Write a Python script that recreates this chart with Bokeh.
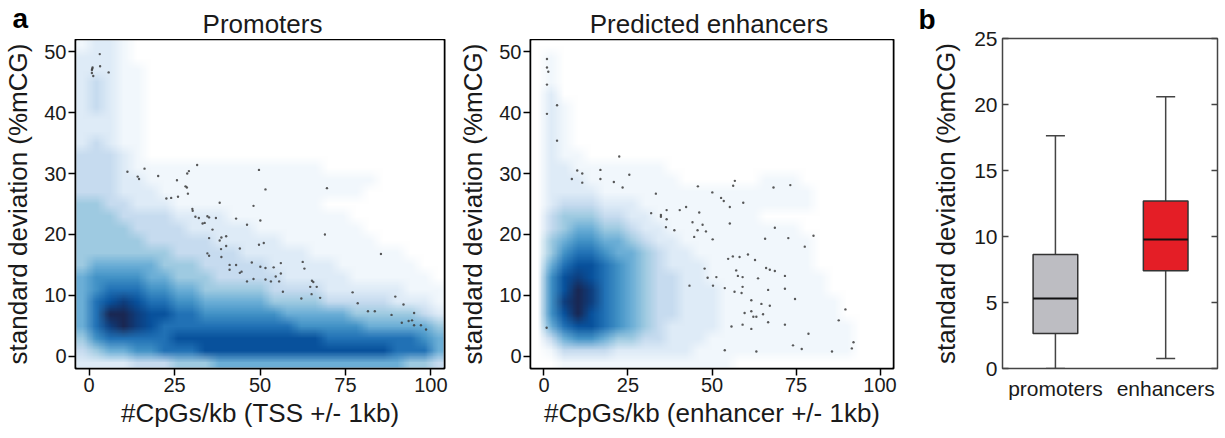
import zlib
import struct
import base64
import numpy as np
from bokeh.plotting import figure
from bokeh.layouts import row, column
from bokeh.models import FixedTicker, Range1d, LinearAxis
from bokeh.core.properties import value
from bokeh.embed import file_html
from bokeh.resources import INLINE

FONT = "Liberation Sans"

# ---------------- data ----------------
# density levels (0 = none ... a = highest, hex digits), rows listed top (sd ~51) to
# bottom (sd ~-1), columns are CpG/kb bins centred at -2, 2, 6, ..., 102
promoter_density = [
    "122100000000000000000000000",
    "222100000000000000000000000",
    "222110000000000000000000000",
    "232110000000000000000000000",
    "232110000000000000000000000",
    "232110000000000000000000000",
    "222110000000000000000000000",
    "222110000000000000000000000",
    "232110000000000000000000000",
    "333210000000000000000000000",
    "333211111111111111000000000",
    "333221111111111111111100000",
    "333222111111111111111000000",
    "443322211111111111000000000",
    "444333322221111111110000000",
    "444433332222211111111000000",
    "444443333322222111111100000",
    "444444433333222221111111000",
    "455555444333332222211111100",
    "566665544433333222221111110",
    "567776655444443333222222111",
    "578987766555554444333332221",
    "57aa98877666666555554444432",
    "579a98777777777766666555554",
    "467777788888888888777777765",
    "345566777888888888888887775",
    "222233344455555555555555443",
]
enhancer_density = [
    "000000000000000000000000000",
    "010000000000000000000000000",
    "010000000000000000000000000",
    "010000000000000000000000000",
    "020000000000000000000000000",
    "021000000000000000000000000",
    "021000000000000000000000000",
    "021000000000000000000000000",
    "021000000000000000000000000",
    "021100000000000000000000000",
    "022111111100000000000000000",
    "022211111110000001110000000",
    "022221111111111111111000000",
    "023332221111111111111000000",
    "034443322111111110000000000",
    "034554432211111111110000000",
    "045665543221111111111000000",
    "046776554322111111111000000",
    "057887654322211111111000000",
    "068987654332211111111100000",
    "068a97654332221111111100000",
    "069a97654332221111111110000",
    "068a87654332221111111110000",
    "057887654322221111111111000",
    "035665443322211111111111000",
    "013333222222111111111111000",
    "001111111111111000000000000",
]

# sparse points (CpGs/kb, sd %mCG)
promoter_pts_x = [3.1, 3.2, 0.9, 1.0, 0.8, 0.8, 1.2, 5.7,
                  11.2, 16.2, 14.2, 14.6, 20.2, 25.7, 28.7, 29.2, 31.6, 28.2, 28.6, 49.7,
                  22.6, 24.0, 26.0, 28.9, 30.2, 30.3, 31.1, 32.1,
                  51.6, 69.6, 38.2, 48.1, 34.6, 35.1, 37.1, 43.0, 50.1, 46.2, 33.2, 33.8,
                  36.1, 69.0, 35.1, 38.7, 40.1, 38.2, 40.1, 38.6, 44.1, 49.7, 51.1, 34.6,
                  35.1, 38.7, 85.4, 41.1, 43.0, 41.1, 47.6, 50.1, 51.6, 54.0, 56.1, 62.5,
                  63.0, 44.1, 44.6, 56.1, 48.1, 46.2, 51.6, 53.2, 55.6, 54.6, 56.7, 65.2,
                  65.6, 64.7, 66.6, 65.1, 67.6, 62.1, 77.1, 78.6, 89.6, 92.0, 81.6, 83.6,
                  88.5, 95.1, 91.5, 93.5, 94.5, 95.1, 97.1, 98.6]
promoter_pts_y = [49.6, 47.6, 47.2, 47.4, 47.0, 46.5, 46.0, 46.6,
                  30.3, 30.8, 29.5, 29.1, 29.6, 28.9, 30.0, 30.4, 31.4, 27.9, 27.7, 30.6,
                  25.9, 26.0, 26.2, 26.7, 24.2, 23.9, 22.9, 22.7,
                  27.4, 27.6, 25.2, 24.7, 23.0, 22.8, 22.7, 22.6, 22.3, 21.6, 21.8, 21.9,
                  20.8, 20.0, 19.4, 19.5, 19.7, 19.0, 18.1, 17.6, 17.7, 18.3, 18.6, 16.9,
                  16.5, 16.3, 16.8, 15.0, 15.0, 14.2, 15.4, 14.7, 14.5, 14.6, 15.3, 15.5,
                  14.4, 13.7, 13.9, 13.6, 12.7, 12.3, 12.6, 12.3, 12.3, 13.1, 10.6, 12.4,
                  12.2, 11.4, 11.4, 10.2, 9.6, 9.5, 10.5, 8.7, 9.8, 8.5, 7.4, 7.4,
                  6.8, 7.1, 5.5, 5.8, 5.9, 5.1, 5.1, 4.4]

enhancer_pts_x = [0.9, 0.9, 1.3, 0.9, 3.9, 0.9, 3.9, 22.4, 9.9, 11.4, 16.8, 8.3, 11.4,
                  16.8, 20.8, 25.4, 23.4, 45.8, 56.8, 56.3, 33.3, 50.1, 52.7, 53.5, 55.3,
                  59.3, 68.3, 73.3, 31.9, 34.8, 36.5, 40.4, 42.3, 46.2, 36.5, 34.8,
                  44.2, 47.2, 55.3, 36.3, 38.8, 45.7, 48.2, 44.7, 50.2, 68.7, 65.8, 72.7,
                  80.2, 77.6, 54.8, 56.2, 58.2, 60.7, 62.8, 47.8, 57.2, 66.1, 67.2, 68.7,
                  48.7, 51.3, 57.7, 59.1, 63.7, 71.7, 43.3, 50.3, 53.8, 59.1, 56.7, 58.8,
                  66.7, 71.7, 74.7, 61.7, 64.7, 67.2, 59.7, 61.7, 62.3, 63.2, 65.2, 66.7,
                  71.7, 55.8, 59.1, 61.7, 89.7, 87.7, 78.7, 92.1, 91.6, 74.1, 76.7, 53.8,
                  63.2, 85.7, 0.8]
enhancer_pts_y = [48.8, 47.4, 46.7, 44.6, 41.2, 39.8, 35.4, 32.8, 30.5, 30.0, 30.6, 29.1, 28.5,
                  29.1, 28.6, 29.8, 27.7, 27.9, 28.8, 28.0, 26.7, 26.9, 26.0, 25.5, 24.5,
                  25.2, 27.7, 28.1, 23.5, 23.2, 24.0, 24.0, 24.5, 23.6, 22.5, 22.9,
                  22.0, 21.6, 21.8, 21.2, 20.7, 20.7, 20.5, 19.6, 19.2, 21.1, 19.3, 19.4,
                  19.8, 18.0, 16.0, 16.4, 16.3, 16.7, 15.8, 14.4, 14.1, 14.5, 14.2, 14.0,
                  12.9, 13.0, 13.2, 13.0, 12.8, 13.2, 11.6, 11.6, 11.2, 11.4, 10.6, 10.4,
                  10.9, 11.1, 9.4, 9.2, 8.6, 8.3, 7.1, 7.4, 6.5, 6.5, 6.9, 5.6,
                  5.2, 4.9, 5.2, 4.5, 7.7, 5.9, 3.7, 2.3, 1.3, 1.8, 1.2, 1.0,
                  0.8, 0.8, 4.7]

box_categories = ["promoters", "enhancers"]
box_whisker_low = [0.0, 0.76]
box_q1 = [2.65, 7.40]
box_median = [5.30, 9.77]
box_q3 = [8.64, 12.68]
box_whisker_high = [17.63, 20.58]

panel_titles = ["Promoters", "Predicted enhancers"]
panel_letters = ["a", "b"]

# ---------------- styles ----------------
density_palette = ["#FFFFFF", "#F1F7FC", "#DEEBF7", "#C6DBEF", "#9ECAE1",
                   "#6BAED6", "#4292C6", "#2171B5", "#08519C", "#0E3E7E", "#1A2752"]
box_colors = ["#BDBDC2", "#E41E26"]


def levels_to_png_url(rows, palette):
    """Encode the level grid (one pixel per cell) as a PNG; the browser scales it smoothly."""
    rgb = [tuple(int(c[i:i + 2], 16) for i in (1, 3, 5)) for c in palette]
    h, w = len(rows), len(rows[0])
    raw = b"".join(b"\x00" + bytes(v for ch in r for v in rgb[int(ch, 16)]) for r in rows)

    def chunk(tag, data):
        return (struct.pack(">I", len(data)) + tag + data +
                struct.pack(">I", zlib.crc32(tag + data) & 0xFFFFFFFF))

    png = (b"\x89PNG\r\n\x1a\n" +
           chunk(b"IHDR", struct.pack(">IIBBBBB", w, h, 8, 2, 0, 0, 0)) +
           chunk(b"IDAT", zlib.compress(raw, 9)) + chunk(b"IEND", b""))
    return "data:image/png;base64," + base64.b64encode(png).decode()


def density_panel(rows, xs, ys, xlabel, width, left, right):
    p = figure(width=width, height=399, x_range=Range1d(-4, 104), y_range=Range1d(-2, 52),
               output_backend="svg", toolbar_location=None,
               min_border_left=left, min_border_right=right,
               min_border_top=0, min_border_bottom=70)
    p.image_url(url=[levels_to_png_url(rows, density_palette)], x=-4, y=52, w=108, h=54,
                anchor="top_left")
    p.scatter(xs, ys, size=2.4, fill_color="#3c3c3c", line_color=None, alpha=0.85)

    p.xgrid.visible = False
    p.ygrid.visible = False
    p.outline_line_color = "black"
    p.outline_line_width = 2
    for ax in (p.xaxis[0], p.yaxis[0]):
        ax.axis_line_color = None
        ax.major_tick_out = 7
        ax.major_tick_in = 0
        ax.minor_tick_line_color = None
        ax.major_tick_line_width = 1.5
        ax.major_tick_line_color = "black"
        ax.major_label_text_font = FONT
        ax.major_label_text_font_size = "20px"
        ax.major_label_text_color = "#1a1a1a"
        ax.major_label_standoff = 2
        ax.axis_label_text_font = FONT
        ax.axis_label_text_font_size = "26px"
        ax.axis_label_text_font_style = "normal"
        ax.axis_label_text_color = "#1a1a1a"
    p.xaxis.ticker = FixedTicker(ticks=[0, 25, 50, 75, 100])
    p.yaxis.ticker = FixedTicker(ticks=[0, 10, 20, 30, 40, 50])
    p.xaxis.axis_label = xlabel
    p.yaxis.axis_label = "standard deviation (%mCG)"
    p.xaxis.axis_label_standoff = 3
    p.yaxis.axis_label_standoff = 8
    return p


p1 = density_panel(promoter_density, promoter_pts_x, promoter_pts_y,
                   "#CpGs/kb (TSS +/- 1kb)", 455, 74, 11)
p2 = density_panel(enhancer_density, enhancer_pts_x, enhancer_pts_y,
                   "#CpGs/kb (enhancer +/- 1kb)", 450, 69, 12)

# ---------------- box plot (panel b, full height, letter as its title) ----------------
p3 = figure(width=320, height=438, x_range=Range1d(0.52, 2.47), y_range=Range1d(0, 25),
            output_backend="svg", toolbar_location=None, title=panel_letters[1],
            min_border_left=97, min_border_right=8, min_border_top=38, min_border_bottom=70)
p3.title.align = "left"
p3.title.offset = -84
p3.title.vertical_align = "top"
p3.title.standoff = 4
p3.title.text_font = FONT
p3.title.text_font_size = "28px"
p3.title.text_font_style = "bold"
p3.title.text_color = "black"

xpos = np.arange(1, len(box_categories) + 1)
box_w = 0.405
p3.segment(xpos, box_q3, xpos, box_whisker_high, line_color="#444444", line_width=1.5)
p3.segment(xpos, box_whisker_low, xpos, box_q1, line_color="#444444", line_width=1.5)
p3.scatter(xpos, box_whisker_high, marker="dash", size=19, line_color="#444444", line_width=1.5)
p3.scatter(xpos, box_whisker_low, marker="dash", size=19, line_color="#444444", line_width=1.5)
p3.vbar(x=xpos, width=box_w, bottom=box_q1, top=box_q3, fill_color=box_colors,
        line_color="#333333", line_width=1.5)
p3.segment(xpos - box_w / 2, box_median, xpos + box_w / 2, box_median,
           line_color="#111111", line_width=2)

p3.xgrid.visible = False
p3.ygrid.visible = False
p3.outline_line_color = "#444444"
p3.outline_line_width = 1.5
p3.xaxis.ticker = FixedTicker(ticks=list(xpos))
p3.xaxis.major_label_overrides = {int(i): c for i, c in zip(xpos, box_categories)}
p3.xaxis.major_tick_line_color = None
p3.xaxis.minor_tick_line_color = None
p3.xaxis.axis_line_color = None
p3.xaxis.major_label_standoff = 2
p3.yaxis.ticker = FixedTicker(ticks=[0, 5, 10, 15, 20, 25])
p3.yaxis.axis_line_color = None
p3.yaxis.major_tick_in = 6
p3.yaxis.major_tick_out = 0
p3.yaxis.minor_tick_line_color = None
p3.yaxis.major_tick_line_color = "#444444"
p3.yaxis.major_tick_line_width = 1.3
p3.yaxis.major_label_standoff = 5
p3.yaxis.axis_label = "standard deviation (%mCG)"
p3.yaxis.axis_label_standoff = 10
for ax in (p3.xaxis[0], p3.yaxis[0]):
    ax.major_label_text_font = FONT
    ax.major_label_text_font_size = "21px"
    ax.major_label_text_color = "#1a1a1a"
    ax.axis_label_text_font = FONT
    ax.axis_label_text_font_size = "26px"
    ax.axis_label_text_font_style = "normal"
    ax.axis_label_text_color = "#1a1a1a"
right_ax = LinearAxis(ticker=FixedTicker(ticks=[0, 5, 10, 15, 20, 25]), axis_line_color=None,
                      major_tick_in=6, major_tick_out=0, major_tick_line_color="#444444",
                      major_tick_line_width=1.3, minor_tick_line_color=None,
                      major_label_text_color=None, major_label_standoff=0)
p3.add_layout(right_ax, "right")

# ---------------- header strip over panel a (titles and letter) ----------------
top = figure(width=905, height=39, x_range=Range1d(0, 905), y_range=Range1d(39, 0),
             output_backend="svg", toolbar_location=None, x_axis_type=None, y_axis_type=None,
             min_border_left=0, min_border_right=0, min_border_top=0, min_border_bottom=0)
top.outline_line_color = None
top.xgrid.visible = False
top.ygrid.visible = False
frame_centres = [74 + (455 - 74 - 11) / 2 + 3, 455 + 69 + (450 - 69 - 12) / 2]
top.text(x=frame_centres, y=[23.5, 23.5], text=panel_titles, text_align="center",
         text_baseline="middle", text_font=value(FONT), text_font_size="26px",
         text_color="#1a1a1a")
top.text(x=[12], y=[17.5], text=panel_letters[:1], text_align="left",
         text_baseline="middle", text_font=value(FONT), text_font_size="28px",
         text_font_style="bold", text_color="black")

layout = row(column(top, row(p1, p2)), p3)
open("out.html", "w").write(file_html(layout, INLINE))
